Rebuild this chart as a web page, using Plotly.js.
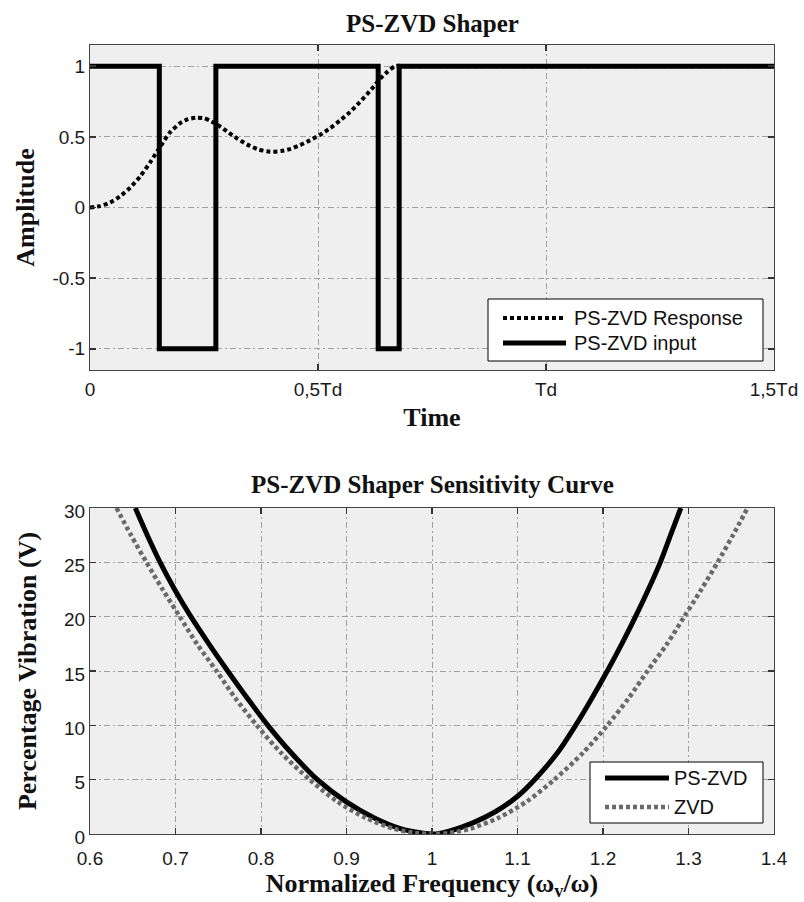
<!DOCTYPE html>
<html>
<head>
<meta charset="utf-8">
<script src="https://cdn.plot.ly/plotly-3.0.1.min.js"></script>
<style>
  html, body { margin: 0; padding: 0; background: #ffffff; }
  #chart { width: 804px; height: 902px; }
</style>
</head>
<body>
<div id="chart"></div>
<script>
// ---- PS-ZVD shaper: time response (time in units of Td) ----
const responseTime = [0, 0.022, 0.044, 0.066, 0.088, 0.11, 0.132, 0.154, 0.175, 0.197, 0.215,
  0.234, 0.25, 0.263, 0.28, 0.3, 0.322, 0.345, 0.37, 0.395, 0.42, 0.44, 0.46, 0.482, 0.505,
  0.526, 0.548, 0.57, 0.59, 0.607, 0.622, 0.636, 0.652, 0.669, 0.7, 1.5];
const responseAmp = [0, 0.01, 0.035, 0.08, 0.14, 0.22, 0.32, 0.43, 0.53, 0.595, 0.625,
  0.636, 0.632, 0.615, 0.585, 0.54, 0.49, 0.445, 0.41, 0.395, 0.4, 0.415, 0.44, 0.475, 0.515,
  0.56, 0.615, 0.675, 0.74, 0.8, 0.855, 0.91, 0.96, 1.0, 1.0, 1.0];

// shaped input: bang-bang sequence of +1 / -1 levels
const inputTime = [0, 0.152, 0.152, 0.276, 0.276, 0.632, 0.632, 0.678, 0.678, 1.5];
const inputAmp  = [1, 1, -1, -1, 1, 1, -1, -1, 1, 1];

const timeTicks = [0, 0.5, 1, 1.5];
const timeTickText = ['0', '0,5Td', 'Td', '1,5Td'];
const ampTicks = [-1, -0.5, 0, 0.5, 1];
const ampTickText = ['-1', '-0.5', '0', '0.5', '1'];

// ---- sensitivity curves: percentage residual vibration vs normalized frequency ----
const freqPsZvd = [0.653, 0.667, 0.682, 0.699, 0.718, 0.739, 0.761, 0.784, 0.808, 0.835, 0.866,
  0.899, 0.932, 0.963, 0.988, 1.005, 1.022, 1.047, 1.073, 1.099, 1.12, 1.147, 1.168, 1.187,
  1.205, 1.222, 1.238, 1.253, 1.267, 1.279, 1.291];
const vibPsZvd = [30, 27.5, 25, 22.5, 20, 17.5, 15, 12.5, 10, 7.5, 5,
  3, 1.5, 0.5, 0.1, 0, 0.3, 1, 2, 3.4, 5, 7.5, 10, 12.5,
  15, 17.5, 20, 22.5, 25, 27.5, 30];

const freqZvd = [0.631, 0.648, 0.666, 0.685, 0.705, 0.725, 0.748, 0.77, 0.795, 0.823, 0.857,
  0.889, 0.922, 0.955, 0.98, 1.0, 1.02, 1.045, 1.078, 1.111, 1.143, 1.177, 1.205, 1.23,
  1.252, 1.275, 1.295, 1.315, 1.334, 1.352, 1.369];
const vibZvd = [30, 27.5, 25, 22.5, 20, 17.5, 15, 12.5, 10, 7.5, 5,
  3, 1.5, 0.5, 0.1, 0, 0.1, 0.5, 1.5, 3, 5, 7.5, 10, 12.5,
  15, 17.5, 20, 22.5, 25, 27.5, 30];

const freqTicks = [0.6, 0.7, 0.8, 0.9, 1, 1.1, 1.2, 1.3, 1.4];
const freqTickText = ['0.6', '0.7', '0.8', '0.9', '1', '1.1', '1.2', '1.3', '1.4'];
const vibTicks = [0, 5, 10, 15, 20, 25, 30];

const SERIF = '"Liberation Serif", "Times New Roman", Times, serif';
const SANS = '"Liberation Sans", Arial, Helvetica, sans-serif';
const DOTS = '4px,3px';
const GRID_DASH = '6px,3px,2px,3px';

const traces = [
  { x: responseTime, y: responseAmp, xaxis: 'x', yaxis: 'y', type: 'scatter', mode: 'lines',
    name: 'PS-ZVD Response', showlegend: false,
    line: { color: '#000000', width: 4, dash: DOTS, shape: 'spline', smoothing: 0.6 } },
  { x: inputTime, y: inputAmp, xaxis: 'x', yaxis: 'y', type: 'scatter', mode: 'lines',
    name: 'PS-ZVD input', showlegend: false,
    line: { color: '#000000', width: 5 } },
  { x: freqPsZvd, y: vibPsZvd, xaxis: 'x2', yaxis: 'y2', type: 'scatter', mode: 'lines',
    name: 'PS-ZVD', showlegend: false,
    line: { color: '#000000', width: 5, shape: 'spline', smoothing: 0.8 } },
  { x: freqZvd, y: vibZvd, xaxis: 'x2', yaxis: 'y2', type: 'scatter', mode: 'lines',
    name: 'ZVD', showlegend: false,
    line: { color: '#6a6a6a', width: 4.5, dash: DOTS, shape: 'spline', smoothing: 0.8 } }
];

const axisCommon = {
  showline: true, linecolor: '#444444', linewidth: 1, mirror: 'ticks',
  ticks: 'inside', ticklen: 6, tickcolor: '#333333', tickwidth: 1.5,
  showgrid: true, gridcolor: '#a0a0a0', gridwidth: 1, griddash: GRID_DASH,
  zeroline: false, tickfont: { family: SANS, size: 19, color: '#1a1a1a' }
};
const titleFont = { family: SERIF, size: 26, color: '#111111', weight: 'bold' };

// plot area in pixels: left 90, right 774, top 45, bottom 834
const L = 90, R = 774, T = 45, B = 834;
const px = (x) => (x - L) / (R - L);
const py = (y) => (B - y) / (B - T);

// legend boxes drawn as shapes + labels
function legendItems(box, items) {
  const shapes = [{
    type: 'rect', xref: 'paper', yref: 'paper',
    x0: px(box.x0), x1: px(box.x1), y0: py(box.y1), y1: py(box.y0),
    fillcolor: '#ffffff', line: { color: '#000000', width: 1 }, layer: 'above'
  }];
  const notes = [];
  items.forEach((it) => {
    shapes.push({
      type: 'line', xref: 'paper', yref: 'paper',
      x0: px(box.s0), x1: px(box.s1), y0: py(it.y), y1: py(it.y),
      line: { color: it.color, width: it.width, dash: it.dash || 'solid' }, layer: 'above'
    });
    notes.push({
      xref: 'paper', yref: 'paper', x: px(box.tx), y: py(it.y),
      xanchor: 'left', yanchor: 'middle', showarrow: false, text: it.label,
      font: { family: SANS, size: 20, color: '#111111' }
    });
  });
  return { shapes, notes };
}

const topLegend = legendItems(
  { x0: 488, x1: 763, y0: 299, y1: 361, s0: 503, s1: 566, tx: 572 },
  [ { label: 'PS-ZVD Response', y: 318, color: '#000000', width: 4, dash: DOTS },
    { label: 'PS-ZVD input', y: 343, color: '#000000', width: 5 } ]);
const bottomLegend = legendItems(
  { x0: 590, x1: 763, y0: 762, y1: 823, s0: 605, s1: 669, tx: 672 },
  [ { label: 'PS-ZVD', y: 778, color: '#000000', width: 5 },
    { label: 'ZVD', y: 807, color: '#6a6a6a', width: 4.5, dash: DOTS } ]);

const layout = {
  width: 804, height: 902,
  margin: { l: L, r: 804 - R, t: T, b: 902 - B, pad: 0 },
  paper_bgcolor: '#ffffff', plot_bgcolor: '#efefef',
  showlegend: false,
  xaxis: Object.assign({}, axisCommon, {
    domain: [0, 1], anchor: 'y', range: [0, 1.5],
    tickvals: timeTicks, ticktext: timeTickText, ticklabelstandoff: 2,
    title: { text: 'Time', font: titleFont, standoff: 9 }
  }),
  yaxis: Object.assign({}, axisCommon, {
    domain: [py(370), 1], anchor: 'x', range: [-1.15, 1.15],
    tickvals: ampTicks, ticktext: ampTickText,
    title: { text: 'Amplitude', font: titleFont, standoff: 10 }
  }),
  xaxis2: Object.assign({}, axisCommon, {
    domain: [0, 1], anchor: 'y2', range: [0.6, 1.4],
    tickvals: freqTicks, ticktext: freqTickText, ticklabelstandoff: 7,
    title: { text: 'Normalized Frequency (ω<sub>v</sub>/ω)', font: titleFont, standoff: 4 }
  }),
  yaxis2: Object.assign({}, axisCommon, {
    domain: [0, py(508)], anchor: 'x2', range: [0, 30],
    tickvals: vibTicks, ticklabelshift: 3,
    title: { text: 'Percentage Vibration (V)', font: titleFont, standoff: 19 }
  }),
  annotations: [
    { xref: 'paper', yref: 'paper', x: 0.5, y: py(23), xanchor: 'center', yanchor: 'middle',
      showarrow: false, text: 'PS-ZVD Shaper',
      font: { family: SERIF, size: 25, color: '#111111', weight: 'bold' } },
    { xref: 'paper', yref: 'paper', x: 0.5, y: py(484), xanchor: 'center', yanchor: 'middle',
      showarrow: false, text: 'PS-ZVD Shaper Sensitivity Curve',
      font: { family: SERIF, size: 25, color: '#111111', weight: 'bold' } }
  ].concat(topLegend.notes, bottomLegend.notes),
  shapes: [].concat(topLegend.shapes, bottomLegend.shapes)
};

Plotly.newPlot('chart', traces, layout, { displayModeBar: false, staticPlot: true });
</script>
</body>
</html>
